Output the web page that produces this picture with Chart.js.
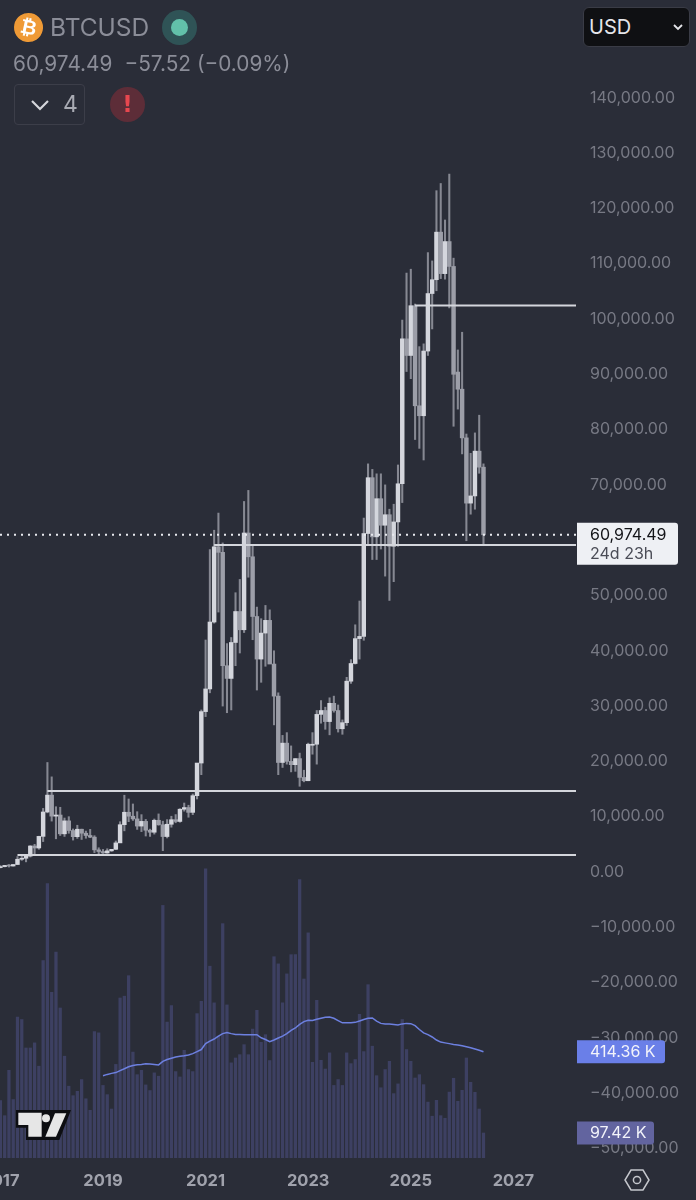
<!DOCTYPE html>
<html>
<head>
<meta charset="utf-8">
<title>BTCUSD</title>
<script src="https://cdn.jsdelivr.net/npm/chart.js@4/dist/chart.umd.min.js"></script>
<style>
    html, body { margin: 0; padding: 0; background: #2a2d38; }
    #wrap { position: relative; width: 696px; height: 1200px; overflow: hidden; font-family: Inter, sans-serif; }
    #wrap canvas { position: absolute; left: 0; top: 0; }
    .abs { position: absolute; white-space: nowrap; }
    .symbol { left: 50px; top: 11px; font-size: 24.5px; line-height: 32px; color: #8b8d98; }
    .quote { left: 13px; top: 51px; font-size: 20.8px; line-height: 26px; color: #8b8d98; }
    .quote span { margin-left: 12px; }
    .coin { left: 14px; top: 13px; width: 29px; height: 29px; border-radius: 50%; background: #ef9a36; color: #fff;
            font: 700 20px/29px "DejaVu Sans", sans-serif; text-align: center; transform: rotate(12deg); }
    .halo { left: 162px; top: 10px; width: 35px; height: 35px; border-radius: 50%; background: #2f5356; }
    .dot { left: 171px; top: 19px; width: 17px; height: 17px; border-radius: 50%; background: #62c1aa; }
    .box { left: 14px; top: 84px; width: 69px; height: 39px; border: 1.5px solid #3c3e49; border-radius: 4px; }
    .count { left: 63px; top: 90px; font-size: 23px; line-height: 28px; color: #a9abb3; }
    .warn { left: 110px; top: 87px; width: 35px; height: 35px; border-radius: 50%; background: #5d2d38; color: #e8474f;
            font: 700 23px/35px "DejaVu Sans", sans-serif; text-align: center; }
    .select { left: 583px; top: 7px; width: 105px; height: 38px; background: #0f1013; border: 1.5px solid #3a3c46; border-radius: 6px; }
    .currency { left: 589px; top: 14px; font-size: 20px; line-height: 26px; color: #e4e5e9; }
</style>
</head>
<body>
<div id="wrap">
    <canvas id="chart" width="696" height="1200"></canvas>

    <div class="abs coin">₿</div>
    <div class="abs symbol">BTCUSD</div>
    <div class="abs halo"></div>
    <div class="abs dot"></div>
    <div class="abs quote">60,974.49<span>−57.52 (−0.09%)</span></div>
    <div class="abs box"></div>
    <svg class="abs" style="left:30px;top:98px" width="20" height="14"><path d="M2 3 L10 11 L18 3" fill="none" stroke="#d5d6db" stroke-width="2.2"/></svg>
    <div class="abs count">4</div>
    <div class="abs warn">!</div>
    <div class="abs select"></div>
    <div class="abs currency">USD</div>
    <svg class="abs" style="left:672px;top:23px" width="12" height="9"><path d="M2 2 L6 6 L10 2" fill="none" stroke="#e4e5e9" stroke-width="1.8"/></svg>

    <!-- 设置按钮 -->
    <svg class="abs" style="left:624px;top:1168px" width="26" height="24">
        <path d="M7 2 H19 L25 12 L19 22 H7 L1 12 Z" fill="none" stroke="#c5c7cd" stroke-width="1.5"/>
        <circle cx="13" cy="12" r="3.6" fill="none" stroke="#c5c7cd" stroke-width="1.5"/>
    </svg>

    <!-- TradingView 水印 -->
    <svg class="abs" style="left:0;top:860px" width="250" height="340" viewBox="0 0 750 1020">
        <path d="M48 750 H213 L178 840 H78 V803 H48 Z" fill="#0d0e12"/>
        <path d="M55 758 H125 V830 H85 V795 H55 Z" fill="#e6e6e6"/>
        <circle cx="138" cy="775" r="12" fill="#e6e6e6"/>
        <path d="M165 760 H199 L168 830 H136 Z" fill="#e6e6e6"/>
    </svg>
</div>

<script>
// 月线数据，从 2017-01 到 2026-06，下标即月份序号
const opens = [
    970, 970, 1190, 1080, 1350, 2300, 2480, 2870, 4700, 4340, 6440, 10850,
    13900, 10100, 10300, 6900, 9240, 7500, 6390, 7730, 7010, 6600, 6300, 4000,
    3700, 3440, 3820, 4100, 5260, 8550, 10800, 10080, 9600, 8300, 9150, 7550,
    7190, 9350, 8540, 6410, 8630, 9450, 9140, 11350, 11650, 10780, 13800, 19700,
    29000, 33100, 45200, 58800, 57800, 37300, 35000, 41500, 47100, 43800, 61300, 57000,
    46200, 38500, 43200, 45500, 37600, 31800, 19800, 23300, 20000, 19400, 20500, 17100,
    16500, 23100, 23100, 28500, 29200, 27200, 30500, 29200, 25900, 27000, 34500, 37700,
    42200, 42600, 61200, 71300, 60600, 67500, 62700, 64600, 58900, 63300, 70200, 96400,
    93400, 102400, 84300, 82500, 94200, 104600, 107100, 115700, 108200, 114000, 109500, 90400,
    87300, 78500, 66700, 68000, 76100, 73200
];
const highs = [
    1150, 1200, 1350, 1350, 2790, 3000, 2900, 4750, 5000, 6470, 11500, 19800,
    17200, 11800, 11700, 9760, 10000, 7780, 8450, 7750, 7400, 7700, 6560, 4380,
    4080, 4200, 4100, 5600, 9090, 13880, 13200, 12300, 10900, 10370, 9500, 7750,
    9580, 10500, 9190, 9470, 10080, 10380, 11440, 12470, 12070, 14100, 19480, 29300,
    41950, 58300, 61800, 64900, 59500, 41300, 42400, 50500, 52900, 67000, 69000, 59000,
    47900, 45800, 48200, 47400, 40000, 32400, 24700, 25200, 22800, 20500, 21500, 18400,
    23300, 25200, 29200, 31000, 29800, 31500, 31800, 30200, 27500, 35200, 38400, 44700,
    49000, 64000, 73800, 72800, 72000, 72000, 70000, 65600, 66500, 73600, 99800, 108300,
    109000, 102700, 95000, 95500, 112000, 110500, 123200, 124500, 117900, 126200, 111000, 94400,
    97600, 79200, 75700, 79400, 82600, 73800
];
const lows = [
    750, 920, 890, 1060, 1350, 2100, 1830, 2700, 3000, 4110, 5500, 10700,
    9200, 6000, 6600, 6430, 7000, 5770, 6070, 5880, 6100, 6200, 3500, 3120,
    3350, 3390, 3720, 4050, 5330, 7440, 9100, 9320, 7700, 7300, 6500, 6430,
    6850, 8450, 3850, 6150, 8100, 8900, 9000, 11000, 9900, 10370, 13200, 17600,
    28100, 32400, 45000, 47000, 30000, 28800, 29300, 37300, 39600, 43300, 53300, 42000,
    32900, 34300, 37200, 37700, 26600, 17600, 18900, 19500, 18100, 18200, 15500, 16300,
    16500, 21300, 19500, 26900, 25800, 24800, 28900, 25300, 24900, 26500, 34100, 37600,
    38500, 41900, 59300, 56500, 56500, 58400, 53500, 49100, 52500, 58900, 66800, 90500,
    89200, 78200, 76600, 74500, 93400, 98200, 105100, 107300, 107200, 102000, 80600, 83700,
    75600, 59900, 64700, 65600, 72100, 59000
];
const closes = [
    970, 1190, 1080, 1350, 2300, 2480, 2870, 4700, 4340, 6440, 10850, 13900,
    10100, 10300, 6900, 9240, 7500, 6390, 7730, 7010, 6600, 6300, 4000, 3700,
    3440, 3820, 4100, 5260, 8550, 10800, 10080, 9600, 8300, 9150, 7550, 7190,
    9350, 8540, 6410, 8630, 9450, 9140, 11350, 11650, 10780, 13800, 19700, 29000,
    33100, 45200, 58800, 57800, 37300, 35000, 41500, 47100, 43800, 61300, 57000, 46200,
    38500, 43200, 45500, 37600, 31800, 19800, 23300, 20000, 19400, 20500, 17100, 16500,
    23100, 23100, 28500, 29200, 27200, 30500, 29200, 25900, 27000, 34500, 37700, 42200,
    42600, 61200, 71300, 60600, 67500, 62700, 64600, 58900, 63300, 70200, 96400, 93400,
    102400, 84300, 82500, 94200, 104600, 107100, 115700, 108200, 114000, 109500, 90000, 87300,
    78500, 66700, 68000, 76100, 73200, 60974.49
];

// 成交量（单位 K）
const volumes = [
    224, 165, 342, 228, 550, 540, 429, 429, 449, 358, 770, 1070,
    646, 803, 585, 397, 280, 243, 260, 306, 231, 186, 493, 488,
    283, 247, 191, 365, 624, 631, 711, 413, 325, 342, 285, 263,
    332, 319, 985, 530, 594, 337, 316, 420, 345, 337, 563, 611,
    1128, 748, 605, 475, 914, 597, 371, 390, 403, 442, 403, 503,
    576, 451, 481, 380, 785, 757, 605, 718, 793, 793, 1086, 698,
    878, 373, 615, 381, 347, 410, 283, 306, 283, 410, 368, 384,
    560, 415, 676, 436, 321, 274, 345, 377, 251, 289, 540, 423,
    377, 312, 325, 286, 218, 163, 225, 165, 155, 257, 311, 221,
    264, 390, 295, 256, 191, 97.42
];

// 成交量均线，从 2019-01 开始
const volumeMaStart = 24;
const volumeMa = [
    321, 326, 330, 333, 341, 348, 356, 361, 364, 365, 368, 367,
    365, 363, 377, 384, 389, 394, 397, 399, 402, 407, 415, 423,
    446, 456, 464, 475, 485, 489, 485, 482, 482, 481, 481, 481,
    481, 469, 462, 454, 460, 468, 475, 485, 498, 507, 521, 532,
    537, 536, 541, 545, 549, 550, 545, 536, 527, 527, 527, 529,
    534, 540, 545, 546, 534, 525, 523, 523, 521, 519, 523, 525,
    524, 516, 501, 488, 481, 472, 460, 452, 449, 446, 443, 441,
    438, 434, 430, 425, 420, 414.36
];

// 水平线：价格和起始月份序号
const levelPrices = [102450, 59150, 14630, 3050];
const levelStarts = [97, 50, 11, 4];
const lastPrice = 60974.49;

// 坐标轴刻度
const priceTicks = [140000, 130000, 120000, 110000, 100000, 90000, 80000, 70000, 60000, 50000, 40000, 30000, 20000, 10000, 0,
    -10000, -20000, -30000, -40000, -50000];
const yearTicks = [0, 24, 48, 72, 96, 120];
const yearLabels = ['2017', '2019', '2021', '2023', '2025', '2027'];

// 颜色
const UP_COLOR = '#d4d6dd';
const DOWN_COLOR = '#9c9ea8';
const WICK_COLOR = '#868892';
const LEVEL_COLOR = '#d4d6dc';
const VOLUME_COLOR = '#3d4062';
const MA_COLOR = '#6d80e0';

// 可视范围（右侧留给价格轴）
const X_MIN = -0.09;
const X_MAX = 134.64;
const PRICE_MIN = -51720;
const PRICE_MAX = 157680;
const VOLUME_MAX = 4516;

function formatPrice(value) {
    const text = Math.abs(value).toLocaleString('en-US', { minimumFractionDigits: 2, maximumFractionDigits: 2 });
    return value < 0 ? '\u2212' + text : text;
}

// 右上角的价格标签
function drawTag(ctx, y, height, width, bg, lines) {
    const x = 577;
    ctx.save();
    ctx.fillStyle = bg;
    ctx.beginPath();
    ctx.roundRect(x, y, width, height, [0, 3, 3, 0]);
    ctx.fill();
    ctx.textBaseline = 'middle';
    ctx.textAlign = 'left';
    ctx.font = '16px Inter, sans-serif';
    lines.forEach(line => {
        ctx.fillStyle = line.color;
        ctx.fillText(line.text, x + 13, line.y);
    });
    ctx.restore();
}

const tagPlugin = {
    id: 'tags',
    afterDraw(chart) {
        const ctx = chart.ctx;
        const priceY = chart.scales.y.getPixelForValue(lastPrice);
        const maY = chart.scales.volume.getPixelForValue(volumeMa[volumeMa.length - 1]);
        const volY = chart.scales.volume.getPixelForValue(volumes[volumes.length - 1]);

        drawTag(ctx, priceY - 12, 42, 101, '#eef0f4', [
            { text: '60,974.49', color: '#131418', y: priceY },
            { text: '24d 23h', color: '#4a4c56', y: priceY + 19 }
        ]);
        drawTag(ctx, maY - 11.5, 23, 88, '#6a7fe8', [
            { text: '414.36 K', color: '#f2f3fa', y: maY }
        ]);
        drawTag(ctx, volY - 11.5, 23, 77, '#62649f', [
            { text: '97.42 K', color: '#f2f3fa', y: volY }
        ]);
    }
};

const levelDatasets = levelPrices.map((price, i) => ({
    type: 'line',
    data: [{ x: levelStarts[i], y: price }, { x: X_MAX, y: price }],
    borderColor: LEVEL_COLOR,
    borderWidth: 2,
    pointRadius: 0,
    yAxisID: 'y',
    order: 2
}));

new Chart(document.getElementById('chart'), {
    type: 'bar',
    plugins: [tagPlugin],
    data: {
        datasets: [
            {
                // 成交量
                data: volumes.map((v, i) => ({ x: i, y: v })),
                backgroundColor: VOLUME_COLOR,
                barThickness: 2.6,
                grouped: false,
                yAxisID: 'volume',
                order: 6
            },
            {
                // 影线
                data: highs.map((h, i) => ({ x: i, y: [lows[i], h] })),
                backgroundColor: WICK_COLOR,
                barThickness: 1.4,
                grouped: false,
                yAxisID: 'y',
                order: 5
            },
            {
                // 实体
                data: opens.map((o, i) => ({ x: i, y: [Math.min(o, closes[i]), Math.max(o, closes[i])] })),
                backgroundColor: opens.map((o, i) => (closes[i] >= o ? UP_COLOR : DOWN_COLOR)),
                barThickness: 3.8,
                minBarLength: 1,
                grouped: false,
                yAxisID: 'y',
                order: 4
            },
            {
                // 成交量均线
                type: 'line',
                data: volumeMa.map((v, i) => ({ x: i + volumeMaStart, y: v })),
                borderColor: MA_COLOR,
                borderWidth: 1.5,
                pointRadius: 0,
                yAxisID: 'volume',
                order: 3
            },
            ...levelDatasets,
            {
                // 最新价虚线
                type: 'line',
                data: [{ x: X_MIN, y: lastPrice }, { x: X_MAX, y: lastPrice }],
                borderColor: '#e8e9ee',
                borderWidth: 2,
                borderDash: [2, 5],
                pointRadius: 0,
                yAxisID: 'y',
                order: 1
            }
        ]
    },
    options: {
        responsive: false,
        animation: false,
        layout: { padding: 0 },
        plugins: { legend: { display: false }, tooltip: { enabled: false } },
        scales: {
            x: {
                type: 'linear',
                offset: false,
                min: X_MIN,
                max: X_MAX,
                grid: { display: false },
                border: { display: false },
                afterBuildTicks(scale) {
                    scale.ticks = yearTicks.map(value => ({ value }));
                },
                afterFit(scale) {
                    scale.height = 42;
                    scale.paddingLeft = 0;
                    scale.paddingRight = 0;
                },
                ticks: {
                    autoSkip: false,
                    maxRotation: 0,
                    padding: 5,
                    color: '#a0a2ac',
                    font: { family: 'Inter', size: 16.5, weight: '700' },
                    callback: value => yearLabels[yearTicks.indexOf(value)]
                }
            },
            y: {
                type: 'linear',
                position: 'right',
                min: PRICE_MIN,
                max: PRICE_MAX,
                grid: { display: false, drawTicks: false },
                border: { display: false },
                afterBuildTicks(scale) {
                    scale.ticks = priceTicks.map(value => ({ value }));
                },
                afterFit(scale) {
                    scale.width = 120;
                    scale.paddingTop = 0;
                    scale.paddingBottom = 0;
                },
                ticks: {
                    crossAlign: 'near',
                    padding: 14,
                    color: '#777984',
                    font: { family: 'Inter', size: 16 },
                    callback: formatPrice
                }
            },
            volume: {
                type: 'linear',
                display: false,
                min: 0,
                max: VOLUME_MAX
            }
        }
    }
});
</script>
</body>
</html>
